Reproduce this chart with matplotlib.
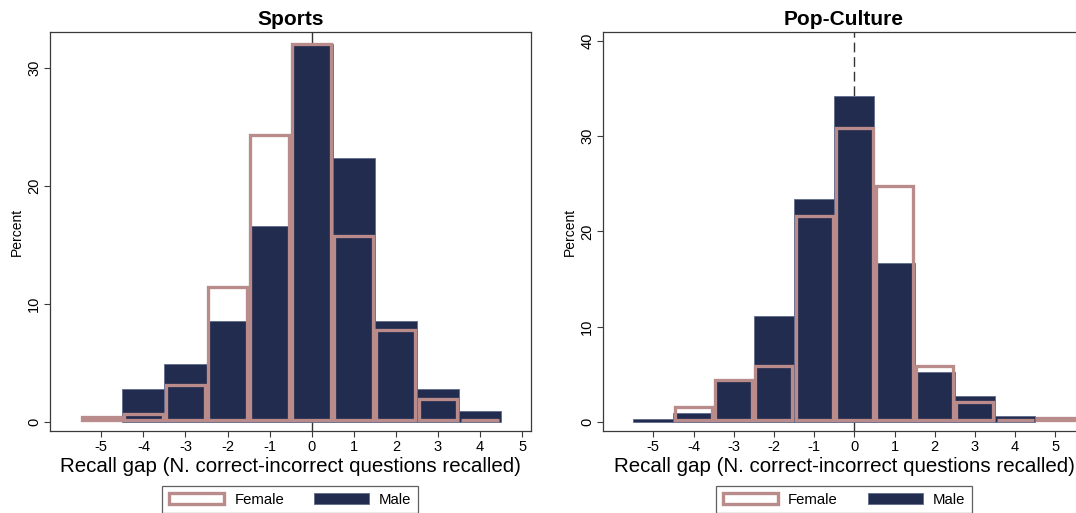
import numpy as np
import matplotlib
matplotlib.use("Agg")
import matplotlib.pyplot as plt
from matplotlib.patches import Patch

plt.rcParams['font.family'] = ['Liberation Sans', 'DejaVu Sans']
plt.rcParams['axes.unicode_minus'] = False

# ---- data (percent) ----
gap = [-5, -4, -3, -2, -1, 0, 1, 2, 3, 4, 5]

sports_male   = [np.nan, 2.8, 4.9, 8.6, 16.6, 32.0, 22.4, 8.6, 2.8, 0.9, np.nan]
sports_female = [0.6, 0.8, 3.3, 11.6, 24.5, 32.2, 15.9, 7.9, 2.1, 0.0, np.nan]

pop_male   = [0.3, 0.9, 4.3, 11.1, 23.4, 34.2, 16.7, 5.2, 2.7, 0.6, np.nan]
pop_female = [np.nan, 1.8, 4.6, 6.1, 21.8, 31.0, 24.9, 6.1, 2.3, 0.0, 0.6]

titles = ["Sports", "Pop-Culture"]
xlabel = "Recall gap (N. correct-incorrect questions recalled)"
ylabel = "Percent"
legend_labels = ["Female", "Male"]

NAVY = "#222c4f"
NAVY_EDGE = "#5f6b8c"
PINK = "#b98b8b"
AXCOL = "#3a3a3a"

W, H = 1076, 513
fig = plt.figure(figsize=(W / 100, H / 100), dpi=100)

panels = [
    dict(px=(50, 530.7, 32, 431), xlim=(-6.22, 5.206), ylim=(-0.763, 33.05),
         yticks=[0, 10, 20, 30], male=sports_male, female=sports_female, ls='-',
         legx=290.3),
    dict(px=(603.3, 1084.7, 32, 431), xlim=(-6.244, 5.73), ylim=(-0.945, 40.94),
         yticks=[0, 10, 20, 30, 40], male=pop_male, female=pop_female, ls=(0, (7, 3.5)),
         legx=844.0),
]

lw_f_px = 3.3  # female outline width in pixels

for i, p in enumerate(panels):
    l, r, t, b = p['px']
    ax = fig.add_axes([l / W, (H - b) / H, (r - l) / W, (b - t) / H])
    ax.set_xlim(*p['xlim'])
    ax.set_ylim(*p['ylim'])
    ppu_x = (r - l) / (p['xlim'][1] - p['xlim'][0])
    ppu_y = (b - t) / (p['ylim'][1] - p['ylim'][0])
    dx = (lw_f_px / 2) / ppu_x
    dy = (lw_f_px / 2) / ppu_y

    ax.axvline(0, color='#333333', lw=1.0, ls=p['ls'], zorder=1)

    x = np.array(gap, dtype=float)
    m = np.array(p['male'], dtype=float)
    f = np.array(p['female'], dtype=float)
    mk = ~np.isnan(m)
    ax.bar(x[mk], m[mk], width=1.0, color=NAVY, edgecolor=NAVY_EDGE, linewidth=0.6, zorder=2)
    fk = ~np.isnan(f)
    hf = np.maximum(f[fk] - 2 * dy, 0)
    ax.bar(x[fk], hf, width=1.0 - 2 * dx, bottom=dy, fill=False,
           edgecolor=PINK, linewidth=lw_f_px * 0.72, zorder=3)

    ax.set_xticks(gap)
    ax.set_xticklabels([str(g) for g in gap])
    ax.set_yticks(p['yticks'])
    ax.set_yticklabels([str(v) for v in p['yticks']], rotation=90, va='center')
    ax.tick_params(axis='both', direction='out', length=4, width=0.8, color=AXCOL,
                   labelsize=10.5, pad=2.5)
    for s in ax.spines.values():
        s.set_color(AXCOL)
        s.set_linewidth(0.9)
    ax.set_title(titles[i], fontsize=15, fontweight='bold', pad=5)
    ax.set_xlabel(xlabel, fontsize=14.8, labelpad=2.5)
    ax.set_ylabel(ylabel, fontsize=10, labelpad=2.5)

    handles = [Patch(facecolor='white', edgecolor=PINK, linewidth=2.4),
               Patch(facecolor=NAVY, edgecolor=NAVY_EDGE, linewidth=0.6)]
    leg = fig.legend(handles, legend_labels, loc='center', ncol=2,
                     bbox_to_anchor=(p['legx'] / W, (H - 499.5) / H),
                     fontsize=10.7, frameon=True, fancybox=False,
                     handlelength=3.7, handleheight=0.8, handletextpad=0.7,
                     columnspacing=2.0, borderpad=0.45, borderaxespad=0)
    leg.get_frame().set_edgecolor(AXCOL)
    leg.get_frame().set_linewidth(0.9)

fig.savefig("out.png", dpi=100)
